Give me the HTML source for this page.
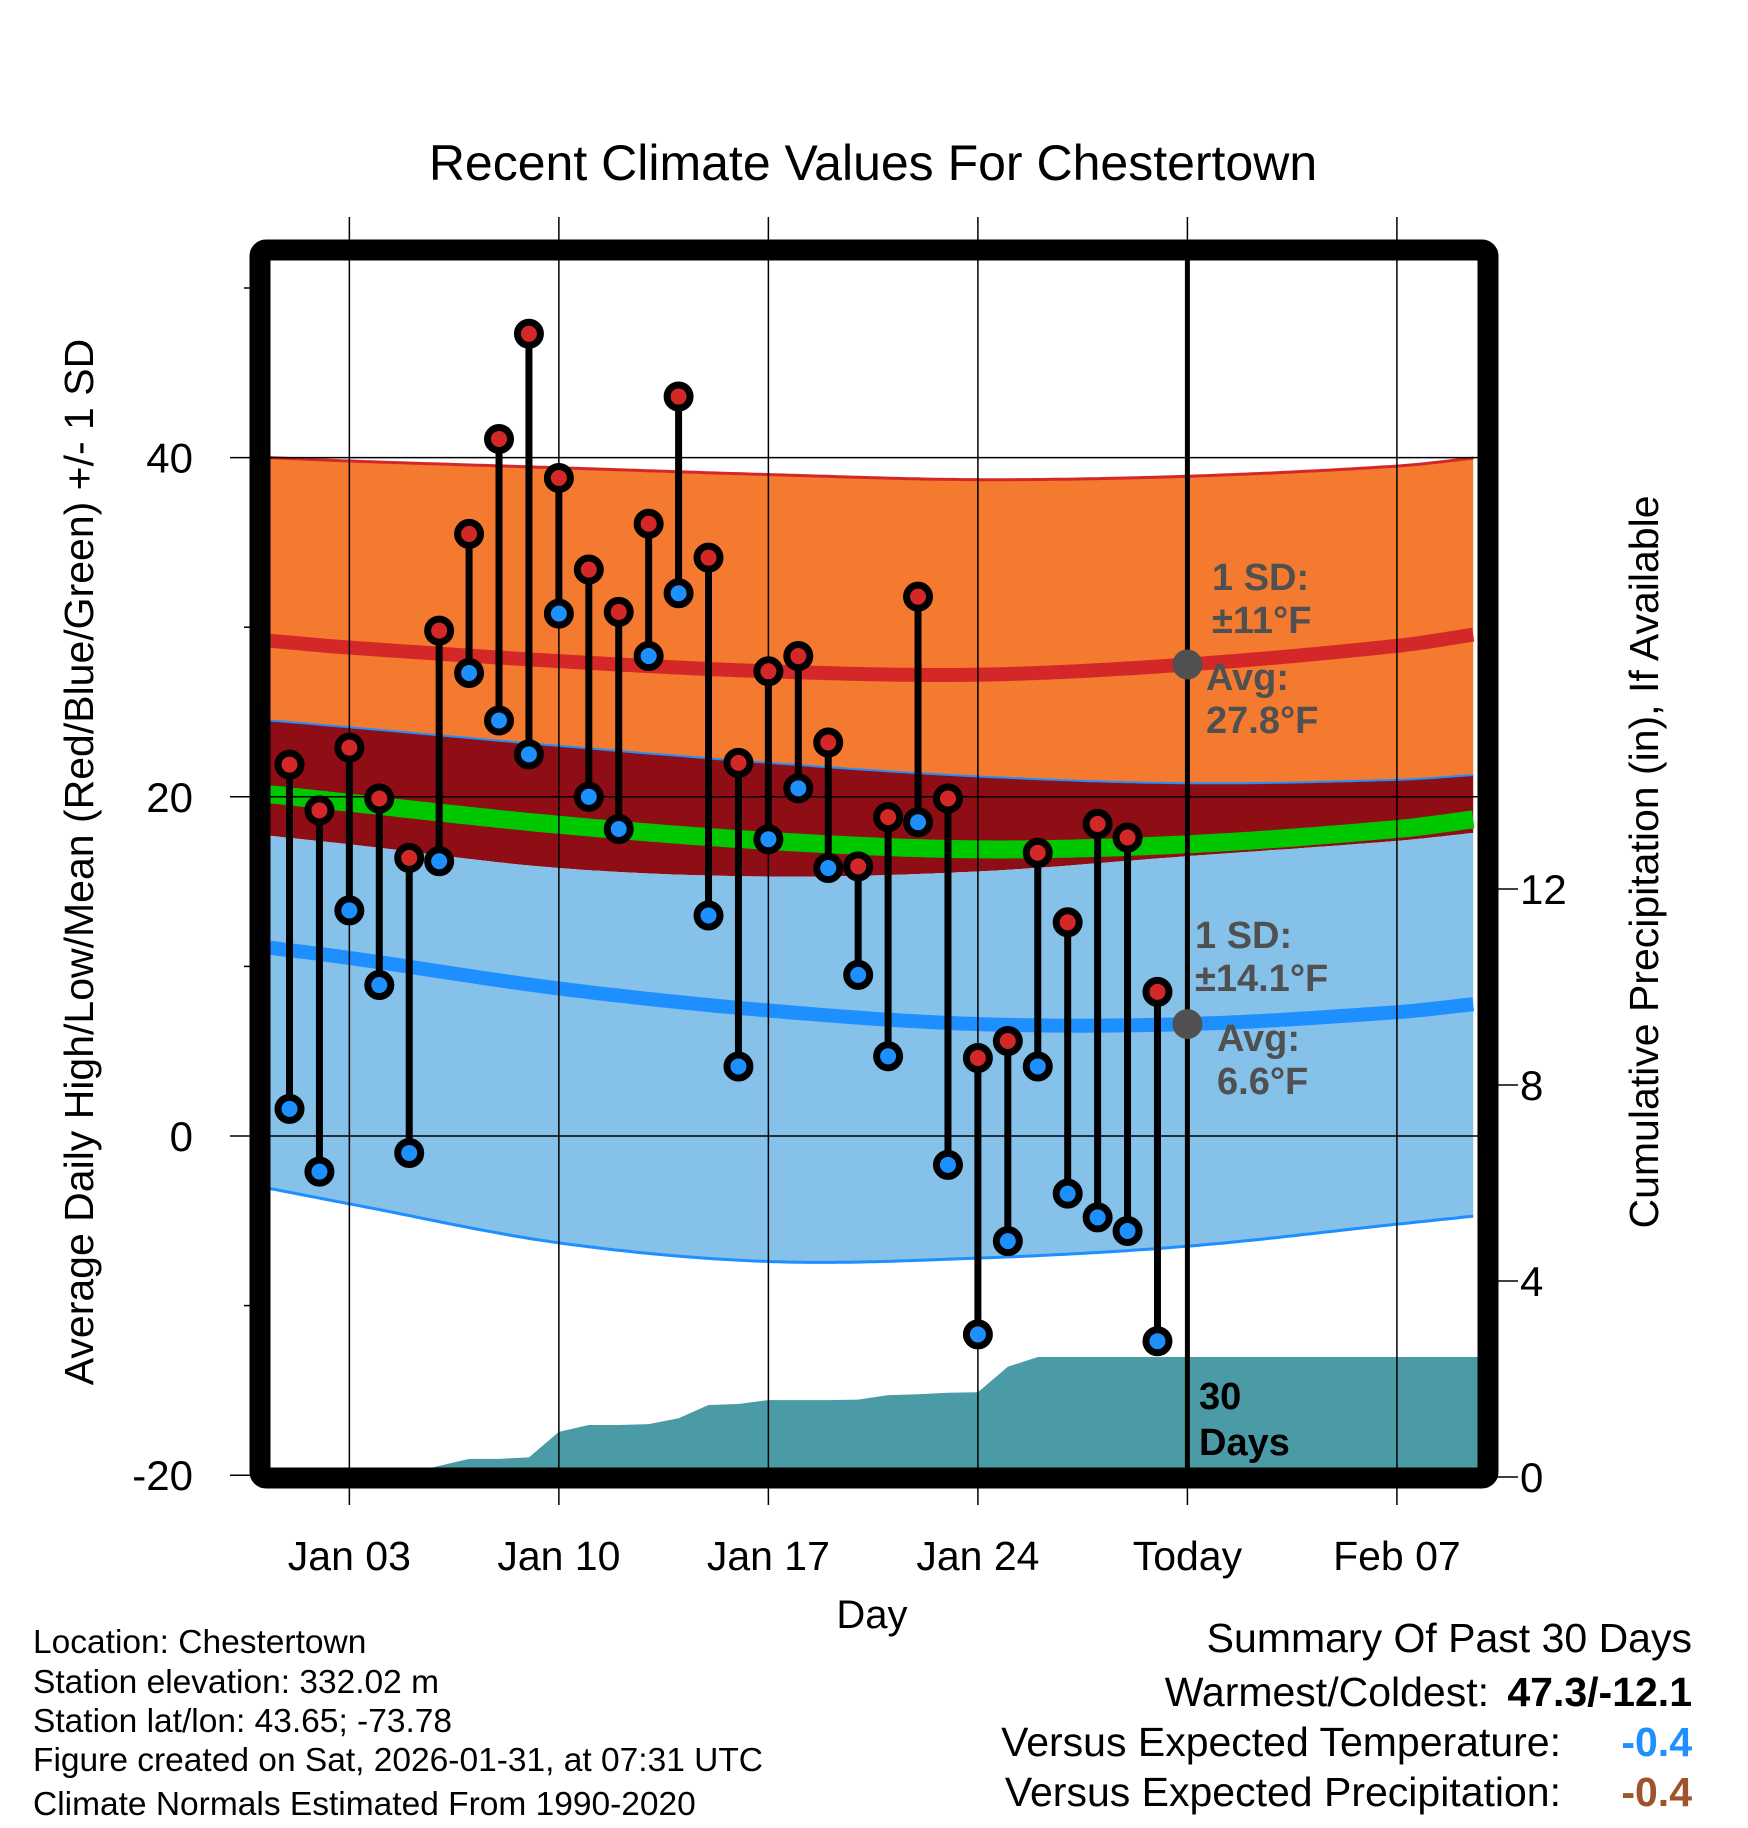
<!DOCTYPE html>
<html><head><meta charset="utf-8"><style>
html,body{margin:0;padding:0;background:#fff;}
svg{display:block;font-family:"Liberation Sans",Arial,sans-serif;}
</style></head><body>
<svg id="chart" width="1748" height="1828" viewBox="0 0 1748 1828" xmlns="http://www.w3.org/2000/svg">
<text x="873" y="180" font-size="50" text-anchor="middle">Recent Climate Values For Chestertown</text>
<g id="plot"></g>
<text transform="translate(93,862) rotate(-90)" font-size="41" text-anchor="middle">Average Daily High/Low/Mean (Red/Blue/Green) +/- 1 SD</text>
<text transform="translate(1658,862) rotate(-90)" font-size="41" text-anchor="middle">Cumulative Precipitation (in), If Available</text>
<text x="872" y="1628" font-size="40" text-anchor="middle">Day</text>
<g font-size="33.5">
<text x="33" y="1653">Location: Chestertown</text>
<text x="33" y="1693">Station elevation: 332.02 m</text>
<text x="33" y="1732">Station lat/lon: 43.65; -73.78</text>
<text x="33" y="1771">Figure created on Sat, 2026-01-31, at 07:31 UTC</text>
<text x="33" y="1815">Climate Normals Estimated From 1990-2020</text>
</g>
<g font-size="41" text-anchor="end">
<text x="1692" y="1652">Summary Of Past 30 Days</text>
<text x="1489" y="1706">Warmest/Coldest:</text>
<text x="1692" y="1706" font-weight="bold">47.3/-12.1</text>
<text x="1561" y="1756">Versus Expected Temperature:</text>
<text x="1692" y="1756" font-weight="bold" fill="#1e90ff">-0.4</text>
<text x="1561" y="1806">Versus Expected Precipitation:</text>
<text x="1692" y="1806" font-weight="bold" fill="#a0522d">-0.4</text>
</g>
</svg>
<script>
const days = [1,2,3,4,5,6,7,8,9,10,11,12,13,14,15,16,17,18,19,20,21,22,23,24,25,26,27,28,29,30];
const highs = [21.9,19.2,22.9,19.9,16.4,29.8,35.5,41.1,47.3,38.8,33.4,30.9,36.1,43.6,34.1,22.0,27.4,28.3,23.2,15.9,18.8,31.8,19.9,4.6,5.6,16.7,12.6,18.4,17.6,8.5];
const lows = [1.6,-2.1,13.3,8.9,-1.0,16.2,27.3,24.5,22.5,30.8,20.0,18.1,28.3,32.0,13.0,4.1,17.5,20.5,15.8,9.5,4.7,18.5,-1.7,-11.7,-6.2,4.1,-3.4,-4.8,-5.6,-12.1];
const normDays = [0.35,3,10,17,24,31,38,40.7];
const highAvg = [29.2,28.8,28.0,27.4,27.2,27.8,28.9,29.6];
const highUpper = [40.0,39.8,39.4,39.0,38.7,38.9,39.5,40.0];
const highLower = [24.5,24.1,23.0,22.0,21.2,20.8,21.0,21.3];
const lowAvg = [11.1,10.5,8.7,7.4,6.6,6.6,7.3,7.8];
const lowUpper = [17.7,17.2,15.8,15.3,15.6,16.5,17.4,17.9];
const lowLower = [-3.1,-4.0,-6.3,-7.4,-7.2,-6.5,-5.2,-4.7];
const precipDays = [1,2,3,4,5,5.7,7,8,9,10,11,12,13,14,15,16,17,18,19,20,21,22,23,24,25,26,27,28,29,30,31,40.7];
const precipCum = [0,0,0,0,0,0,0.37,0.37,0.4,0.92,1.06,1.06,1.08,1.2,1.47,1.49,1.57,1.57,1.57,1.58,1.67,1.69,1.72,1.73,2.25,2.45,2.45,2.45,2.45,2.45,2.45,2.45];
const yTicks = [40,20,0,-20];
const yMinor = [50,30,10,-10];
const pTicks = [0,4,8,12];
const xTickDays = [3,10,17,24,31,38];
const xTickLabels = ["Jan 03","Jan 10","Jan 17","Jan 24","Today","Feb 07"];

const NS="http://www.w3.org/2000/svg";
const X = d => 289.5 + (d-1)*29.93;
const Y = v => 1136 - v*16.96;
const P = p => 1477 - p*49;
const L = 270, R = 1478, T = 260, B = 1468;
const g = document.getElementById('plot');
function mk(tag, attrs, parent){const e=document.createElementNS(NS,tag);for(const k in attrs)e.setAttribute(k,attrs[k]);(parent||g).appendChild(e);return e;}
function smooth(ds, vs){
  const n=ds.length, out=[];
  // monotone-ish cubic Hermite with centered slopes
  const m=ds.map((d,i)=>{const a=Math.max(0,i-1),b=Math.min(n-1,i+1);return (vs[b]-vs[a])/(ds[b]-ds[a]);});
  for(let d=ds[0]; d<=ds[n-1]+0.001; d+=0.2){
    let i=0;while(i<n-2&&d>ds[i+1])i++;
    const h=ds[i+1]-ds[i], t=Math.min(1,(d-ds[i])/h);
    const t2=t*t,t3=t2*t;
    const v=(2*t3-3*t2+1)*vs[i]+(t3-2*t2+t)*h*m[i]+(-2*t3+3*t2)*vs[i+1]+(t3-t2)*h*m[i+1];
    out.push([X(Math.min(d,ds[n-1])).toFixed(1),Y(v).toFixed(1)]);}
  return out;}
function band(up, lo, fill, name){
  const a=smooth(normDays,up), b=smooth(normDays,lo).reverse();
  const e=mk('path',{d:'M'+a.concat(b).map(p=>p.join(',')).join('L')+'Z',fill:fill});
  
  
}
function curve(vs, color, w, name){
  const e=mk('path',{d:'M'+smooth(normDays,vs).map(p=>p.join(',')).join('L'),fill:'none',stroke:color,'stroke-width':w});
  
  
}
band(highUpper, highLower, '#f47a30', 'high-sd-band');
band(highLower, lowUpper, '#8f0d14', 'overlap-band');
band(lowUpper, lowLower, '#85c1e8', 'low-sd-band');
curve(highUpper,'#d42828',3,'high-upper-line');
curve(highLower,'#1e8fff',2,'high-lower-line');
curve(lowLower,'#1e8fff',3,'low-lower-line');
curve(highAvg,'#d42828',14,'high-avg-line');
curve(lowAvg,'#1e8fff',14,'low-avg-line');
curve(highAvg.map((h,i)=>(h+lowAvg[i])/2),'#00c800',18,'mean-avg-line');
{
 const pts=precipDays.map((d,i)=>[Math.min(X(d),R),Math.min(P(precipCum[i]),B)]);
 const e=mk('path',{d:'M'+X(1)+','+B+'L'+pts.map(p=>p.join(',')).join('L')+'L'+R+','+B+'Z',fill:'#4a9ba6'});
 
 
}
yTicks.forEach(v=>{
 const e=mk('line',{x1:230,x2:R,y1:Y(v),y2:Y(v),stroke:'#000','stroke-width':1.5});
 
 
 const t=mk('text',{x:193,y:Y(v)+15,'font-size':42,'text-anchor':'end'});t.textContent=v;
 
 
});
yMinor.forEach(v=>{
 const e=mk('line',{x1:244,x2:252,y1:Y(v),y2:Y(v),stroke:'#000','stroke-width':1.5});
 
 
});
xTickDays.forEach((d,i)=>{
 const e=mk('line',{x1:X(d),x2:X(d),y1:217,y2:1505,stroke:'#000','stroke-width':1.5});
 
 
 const t=mk('text',{x:X(d),y:1570,'font-size':41,'text-anchor':'middle'});t.textContent=xTickLabels[i];
 
 
});
pTicks.forEach(p=>{
 const e=mk('line',{x1:1495,x2:1518,y1:P(p),y2:P(p),stroke:'#000','stroke-width':1.5});
 
 
 const t=mk('text',{x:1520,y:P(p)+15,'font-size':42});t.textContent=p;
 
 
});
{const e=mk('line',{x1:X(31),x2:X(31),y1:T,y2:B,stroke:'#000','stroke-width':5});
 
 }
function ann(lines,x,y,name){const t=mk('text',{x:x,y:y,'font-size':38,'font-weight':'bold',fill:'#505050'});
 lines.forEach((s,i)=>{const ts=mk('tspan',{x:x,dy:i?43:0},t);ts.textContent=s;});
 
 }
ann(['1 SD:','±11°F'],1212,590,'high-sd-label');
ann(['Avg:','27.8°F'],1206,690,'high-avg-label');
ann(['1 SD:','±14.1°F'],1195,948,'low-sd-label');
ann(['Avg:','6.6°F'],1217,1051,'low-avg-label');
{const c=mk('circle',{cx:X(31),cy:Y(highAvg[5]),r:15,fill:'#505050'});
 
 
 const c2=mk('circle',{cx:X(31),cy:Y(lowAvg[5]),r:15,fill:'#505050'});
 
 }
{const t=mk('text',{x:1199,y:1409,'font-size':38,'font-weight':'bold'});
 const a=mk('tspan',{x:1199,dy:0},t);a.textContent='30';
 const b=mk('tspan',{x:1199,dy:46},t);b.textContent='Days';
 
 }
days.forEach((d,i)=>{
 const s=mk('line',{x1:X(d),x2:X(d),y1:Y(highs[i]),y2:Y(lows[i]),stroke:'#000','stroke-width':7});
 
 
});
days.forEach((d,i)=>{
 const h=mk('circle',{cx:X(d),cy:Y(highs[i]),r:11.5,fill:'#d42828',stroke:'#000','stroke-width':7});
 
 
 const l=mk('circle',{cx:X(d),cy:Y(lows[i]),r:11.5,fill:'#1e8fff',stroke:'#000','stroke-width':7});
 
 
});
{const f=mk('rect',{x:L-10,y:T-10,width:R-L+20,height:B-T+20,rx:6,fill:'none',stroke:'#000','stroke-width':21});
 
 }
</script>
</body></html>
